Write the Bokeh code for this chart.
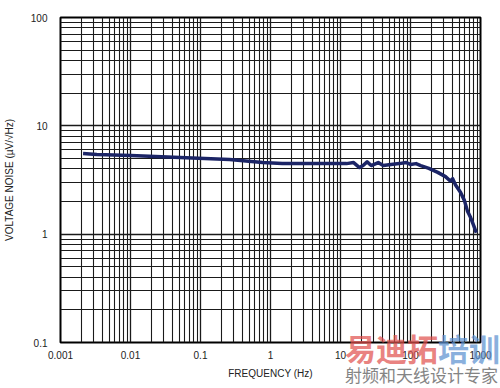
from bokeh.plotting import figure
from bokeh.models import FixedTicker, ColumnDataSource, Div
from bokeh.layouts import column
from bokeh.embed import file_html
from bokeh.resources import INLINE

freq_hz = [0.0021, 0.0033, 0.0101, 0.051, 0.26, 0.77, 1.47, 5.4, 12.2, 15.4, 18.7, 21, 24, 27.5,
           34.6, 40.7, 52.5, 69, 87, 100, 120, 140, 183, 245, 316, 370, 400, 440, 520, 590,
           650, 720, 800, 870]
noise_uv = [5.55, 5.43, 5.32, 5.1, 4.89, 4.58, 4.48, 4.48, 4.48, 4.58, 4.12, 4.3, 4.65, 4.3,
            4.58, 4.3, 4.4, 4.48, 4.58, 4.4, 4.48, 4.3, 4.05, 3.72, 3.4, 3.1, 3.25, 2.84, 2.42, 2.04,
            1.64, 1.43, 1.2, 1.03]

x_major = [0.001, 0.01, 0.1, 1, 10, 100, 1000]
x_labels = ["0.001", "0.01", "0.1", "1", "10", "100", "1000"]
y_major = [0.1, 1, 10, 100]
y_labels = ["0.1", "1", "10", "100"]

def minors(majors):
    out = []
    for m in majors[:-1]:
        for k in range(2, 10):
            out.append(m * k)
    return out

p = figure(width=500, height=388, x_axis_type="log", y_axis_type="log",
           x_range=(0.001, 1000), y_range=(0.1, 100),
           output_backend="svg", toolbar_location=None,
           min_border_left=56, min_border_right=20, min_border_top=17, min_border_bottom=46)
p.background_fill_color = "white"
p.border_fill_color = "white"
p.outline_line_color = "black"
p.outline_line_width = 2

p.xaxis.ticker = FixedTicker(ticks=x_major, minor_ticks=minors(x_major))
p.yaxis.ticker = FixedTicker(ticks=y_major, minor_ticks=minors(y_major))
p.xaxis.major_label_overrides = {v: s for v, s in zip(x_major, x_labels)}
p.yaxis.major_label_overrides = {v: s for v, s in zip(y_major, y_labels)}

for ax in (p.xaxis[0], p.yaxis[0]):
    ax.axis_line_color = None
    ax.major_tick_line_color = None
    ax.minor_tick_line_color = None
    ax.major_label_text_font = "Liberation Sans"
    ax.major_label_text_font_size = "10px"
    ax.major_label_text_color = "#222222"
    ax.axis_label_text_font = "Liberation Sans"
    ax.axis_label_text_font_size = "10px"
    ax.axis_label_text_font_style = "normal"
    ax.axis_label_text_color = "#222222"

p.xaxis.major_label_standoff = 2
p.yaxis.major_label_standoff = 7
p.xaxis.axis_label = "FREQUENCY (Hz)"
p.xaxis.axis_label_standoff = 6
p.yaxis.axis_label = "VOLTAGE NOISE (µV/√Hz)"
p.yaxis.axis_label_standoff = 13

for g in (p.xgrid[0], p.ygrid[0]):
    g.grid_line_color = "#1a1a1a"
    g.grid_line_width = 1.3
    g.minor_grid_line_color = "#1a1a1a"
    g.minor_grid_line_width = 1.1

src = ColumnDataSource(data=dict(f=freq_hz, v=noise_uv))
p.line("f", "v", source=src, line_color="#1b2466", line_width=3.5, line_join="round")

wm = Div(
    text=('<div style="font-family:\'Noto Sans CJK SC\';line-height:1;white-space:nowrap;">'
          '<div style="font-size:31px;font-weight:bold;opacity:0.7;">'
          '<span style="color:#e0504c">易迪拓</span><span style="color:#5a8fd0">培训</span></div>'
          '<div style="font-size:17px;color:#777777;opacity:0.9;margin-top:3px;">射频和天线设计专家</div>'
          '</div>'),
    width=155, height=56, margin=(-56, 0, 0, 345),
    styles={"position": "relative", "z-index": "10"},
)

layout = column(p, wm, spacing=0)
open("out.html", "w").write(file_html(layout, INLINE))
